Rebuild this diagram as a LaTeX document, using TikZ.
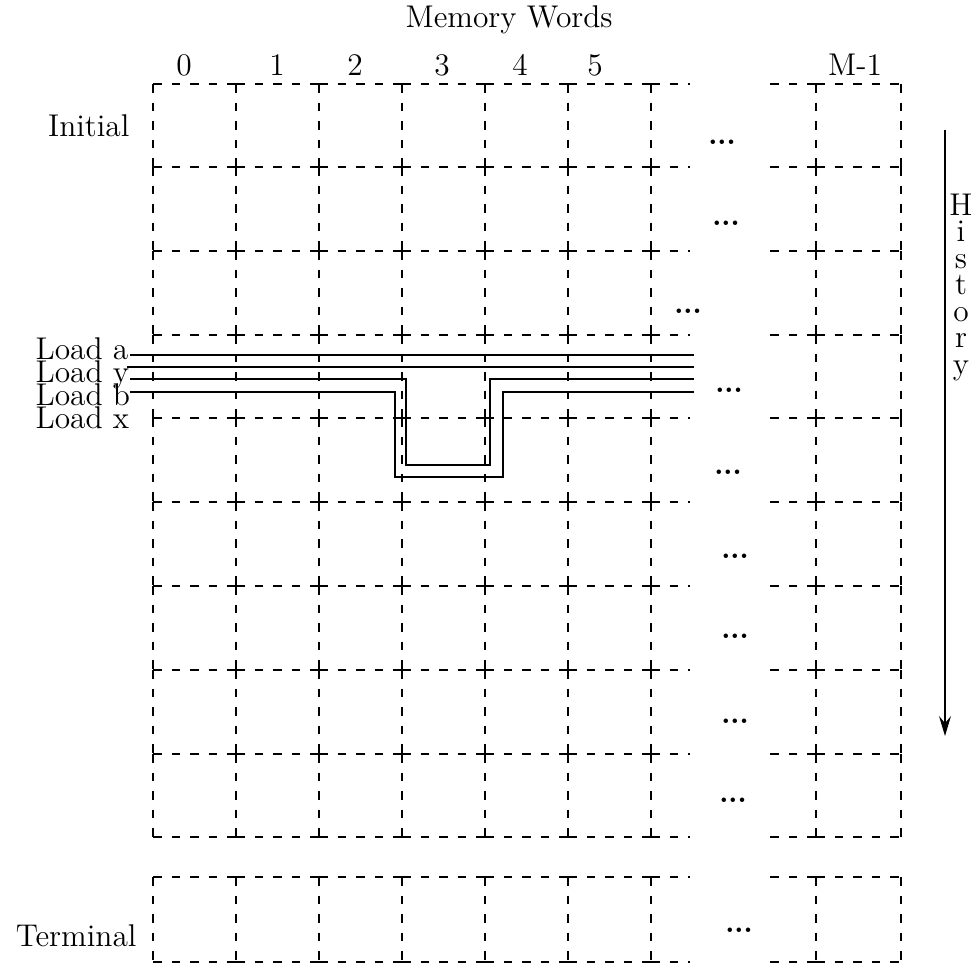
\documentclass[tikz,border=0pt]{standalone}
\usetikzlibrary{arrows.meta}
\newcommand\hcen[1]{\hbox to 12pt{\hfil#1\hfil}}
\begin{document}
\begin{tikzpicture}[x=0.35pt,y=-0.35pt,
  gridline/.style={line width=0.65pt, dash pattern=on 3pt off 3.5pt},
  loadline/.style={line width=0.6pt},
  rowlbl/.style={inner sep=0pt, font=\fontsize{11}{13}\selectfont},
  headlbl/.style={inner sep=0pt, font=\fontsize{11}{13}\selectfont, anchor=base},
  dotslbl/.style={inner sep=0pt, font=\fontsize{10}{12}\selectfont\bfseries, anchor=base}]
\useasboundingbox (0,0) rectangle (979,967);

% vertical grid lines, row by row
\foreach \t/\b in {84/167,167/251,251/335,335/418,418/502,502/586,586/670,670/754,754/837,877/962}{
  \foreach \x in {153,236,319,402,485,568,651,816,901}{
    \draw[gridline] (\x,\t) -- (\x,\b);
  }
}
% horizontal grid lines
\foreach \y in {84,167,251,335,418,502,586,670,754,837,877,962}{
  \foreach \xa/\xb in {153/236,236/319,319/402,402/485,485/568,568/651,651/690,816/762,816/901}{
    \draw[gridline] (\xa,\y) -- (\xb,\y);
  }
}

% header
\node[headlbl, anchor=base west] (mw) at (405,28) {Memory Words};
\node[headlbl] (c0) at (184,76) {0};
\node[headlbl] (c1) at (277,76) {1};
\node[headlbl] (c2) at (355,76) {2};
\node[headlbl] (c3) at (442,76) {3};
\node[headlbl] (c4) at (520,76) {4};
\node[headlbl] (c5) at (595,76) {5};
\node[headlbl] (cm) at (855,76) {M-1};

% row labels
\node[rowlbl, anchor=base east] (ini) at (130,137) {Initial};
\node[rowlbl, anchor=base east] (ter) at (137,947) {Terminal};
\node[rowlbl, anchor=north west] (loads) at (35,337)
  {\vbox{\baselineskip=8.05pt\lineskiplimit=-50pt
   \hbox{Load a}\hbox{Load y}\hbox{Load b}\hbox{Load x}}};

% load lines
\coordinate (a0) at (130,355); \coordinate (a1) at (694,355);
\coordinate (y0) at (127,367); \coordinate (y1) at (694,367);
\coordinate (b0) at (130,379); \coordinate (b1) at (694,379);
\coordinate (x0) at (130,392); \coordinate (x1) at (694,392);
\draw[loadline] (a0) -- (a1);
\draw[loadline] (y0) -- (y1);
\draw[loadline] (b0) -- (406,379) -- (406,465) -- (490,465) -- (490,379) -- (b1);
\draw[loadline] (x0) -- (395,392) -- (395,477) -- (503,477) -- (503,392) -- (x1);

% dots
\node[dotslbl] (d0) at (722,145) {...};
\node[dotslbl] (d1) at (726,226) {...};
\node[dotslbl] (d2) at (688,314) {...};
\node[dotslbl] (d3) at (729,393) {...};
\node[dotslbl] (d4) at (728,475) {...};
\node[dotslbl] (d5) at (735,559) {...};
\node[dotslbl] (d6) at (735,639) {...};
\node[dotslbl] (d7) at (735,724) {...};
\node[dotslbl] (d8) at (733,803) {...};
\node[dotslbl] (d9) at (739,933) {...};

% history arrow
\coordinate (h0) at (945,130);
\coordinate (h1) at (945,736);
\draw[line width=0.5pt, -{Stealth[length=7pt,width=4.2pt,inset=2.5pt]}] (h0) -- (h1);
\node[rowlbl, anchor=north] (hist) at (961,193)
  {\vbox{\baselineskip=9.3pt\lineskiplimit=-50pt
   \hcen{H}\hcen{i}\hcen{s}\hcen{t}\hcen{o}\hcen{r}\hcen{y}}};
\end{tikzpicture}
\end{document}
